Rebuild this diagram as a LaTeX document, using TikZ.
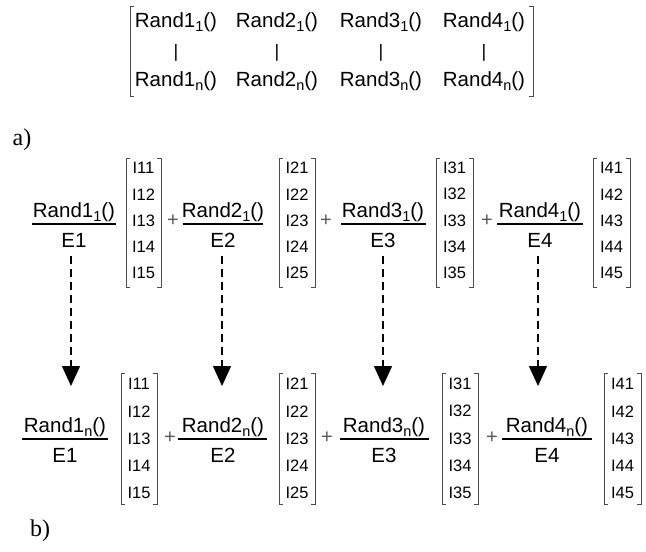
\documentclass[tikz,border=0pt]{standalone}
\usepackage{fontspec}
\setmainfont{Liberation Sans}
\newfontfamily\lblfont{Liberation Serif}
\usetikzlibrary{arrows.meta}
\newcommand\sbs[1]{\raisebox{-0.24em}{\fontsize{14.5}{14.5}\selectfont #1}}
\newcommand\vmat[8]{%
  \draw[brk] (#2+4,#4) -- (#2,#4) -- (#2,#5) -- (#2+4,#5);
  \draw[brk] (#3-4,#4) -- (#3,#4) -- (#3,#5) -- (#3-4,#5);
  \foreach \k in {1,...,5} {\node[ent] (#1\k) at ({(#2+#3)/2},{#6+(\k-1)*#7}) {I#8\k};}
}
\begin{document}
\begin{tikzpicture}[x=1pt,y=-1pt,
  big/.style={inner sep=0pt, font=\fontsize{20.5}{24}\selectfont},
  bar/.style={inner sep=0pt, font=\fontsize{18}{22}\selectfont},
  ent/.style={inner sep=0pt, font=\fontsize{16.5}{19}\selectfont},
  brk/.style={line width=1pt, draw=black!70},
  fracline/.style={line width=1.1pt},
  plus/.style={inner sep=0pt, font=\fontsize{20}{22}\selectfont, text=black!65},
  lbl/.style={inner sep=0pt, font=\lblfont\fontsize{24}{28}\selectfont},
  flow/.style={line width=1.5pt, dash pattern=on 8pt off 5pt, -{Triangle[width=18pt,length=20pt]}}]
\useasboundingbox (0,0) rectangle (646,552);

% top matrix
\draw[brk] (134,6) -- (130,6) -- (130,96) -- (134,96);
\draw[brk] (529,6) -- (533,6) -- (533,96) -- (529,96);
\foreach \c/\x in {1/176,2/277,3/381,4/484} {
  \node[big,anchor=base] (t1\c) at (\x,27) {Rand\c\sbs{1}()};
  \node[bar] (tb\c) at (\x,53) {|};
  \node[big,anchor=base] (tn\c) at (\x,86) {Rand\c\sbs{n}()};
}

\node[lbl] (la) at (22,140) {a)};
\node[lbl] (lb) at (40,531) {b)};

% row a
\foreach \c/\x/\l/\r in {1/74/32/116, 2/223/183/263, 3/383/341/426, 4/540/497/583} {
  \node[big,anchor=base] (na\c) at (\x,217) {Rand\c\sbs{1}()};
  \node[big,anchor=base] (da\c) at (\x,247) {E\c};
  \draw[fracline] (\l,224) -- (\r,224);
}
\vmat{ma1}{126}{161}{158}{287}{168}{26.25}{1}
\vmat{ma2}{279}{315}{158}{287}{168}{26.25}{2}
\vmat{ma3}{436}{473}{158}{287}{168}{26.25}{3}
\vmat{ma4}{593}{630}{158}{287}{168}{26.25}{4}
\node[plus] (pa1) at (173,221) {+};
\node[plus] (pa2) at (326,221) {+};
\node[plus] (pa3) at (487,221) {+};

% row b
\foreach \c/\x/\l/\r in {1/65/22/108, 2/223/178/267, 3/384/340/429, 4/547/502/592} {
  \node[big,anchor=base] (nb\c) at (\x,432) {Rand\c\sbs{n}()};
  \node[big,anchor=base] (db\c) at (\x,462) {E\c};
  \draw[fracline] (\l,439) -- (\r,439);
}
\vmat{mb1}{121}{157}{373}{504}{384}{27.25}{1}
\vmat{mb2}{279}{315}{373}{504}{384}{27.25}{2}
\vmat{mb3}{442}{478}{373}{504}{384}{27.25}{3}
\vmat{mb4}{604}{641}{373}{504}{384}{27.25}{4}
\node[plus] (pb1) at (170,438) {+};
\node[plus] (pb2) at (327,438) {+};
\node[plus] (pb3) at (492,438) {+};

% arrows
\foreach \c/\x in {1/71,2/222,3/383,4/538} {
  \coordinate (s\c) at (\x,256);
  \coordinate (e\c) at (\x,386);
  \draw[flow] (s\c) -- (e\c);
}
\end{tikzpicture}
\end{document}
